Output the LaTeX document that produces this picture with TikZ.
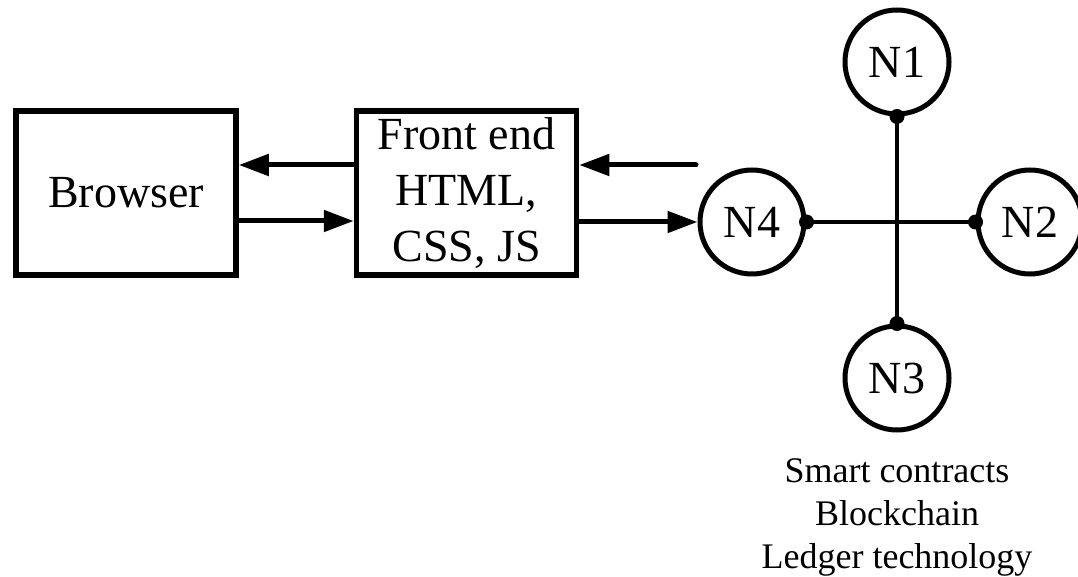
\documentclass[tikz,border=0pt]{standalone}
\usepackage{fontspec}
\setmainfont{Liberation Serif}
\usetikzlibrary{arrows.meta,shadows.blur}

\tikzset{
  block/.style={draw, line width=5.5pt, fill=white, minimum width=220pt, minimum height=164pt,
    inner sep=0pt, align=center, font=\fontsize{46}{56}\selectfont},
  peer/.style={draw, circle, line width=5pt, minimum size=104pt, inner sep=0pt,
    font=\fontsize{46}{56}\selectfont},
  flow/.style={line width=5pt, -{Triangle[length=30pt,width=21pt]}},
  link/.style={line width=4.5pt},
  joint/.style={fill=black, circle, inner sep=0pt, minimum size=15pt},
  glow/.style={blur shadow={shadow xshift=0pt, shadow yshift=0pt, shadow blur radius=4pt,
    shadow opacity=25, shadow blur steps=6}}
}

\begin{document}
\begin{tikzpicture}[x=1pt, y=-1pt]
  \useasboundingbox (0,0) rectangle (1078,577);

  % client side
  \node[block] (browser) at (126,193) {Browser};
  \node[block, glow] (front) at (466.5,193) {Front end\\HTML,\\CSS, JS};

  % peer network
  \node[peer] (n4) at (752,222) {N4};
  \node[peer] (n1) at (897,62) {N1};
  \node[peer] (n2) at (1030,222) {N2};
  \node[peer] (n3) at (897,378) {N3};

  \coordinate (back) at (696,165);

  % data flow between browser, front end and network
  \draw[flow] ([yshift=28pt]front.west) -- ([yshift=28pt]browser.east);
  \draw[flow] ([yshift=-28pt]browser.east) -- ([yshift=-28pt]front.west);
  \draw[flow, line cap=round] (back) -- (back -| front.east);
  \draw[flow] ([yshift=-29pt]front.east) -- (n4.west);

  % links between the nodes
  \draw[link] (n4.east) -- (n2.west);
  \draw[link] (n1.south) -- (n3.north);
  \node[joint] at (n4.east) {};
  \node[joint] at (n2.west) {};
  \node[joint] at (n1.south) {};
  \node[joint] at (n3.north) {};

  % caption under the network
  \node[align=center, font=\fontsize{36}{43}\selectfont, anchor=north] (caption) at (897,455)
    {Smart contracts\\Blockchain\\Ledger technology};
\end{tikzpicture}
\end{document}
